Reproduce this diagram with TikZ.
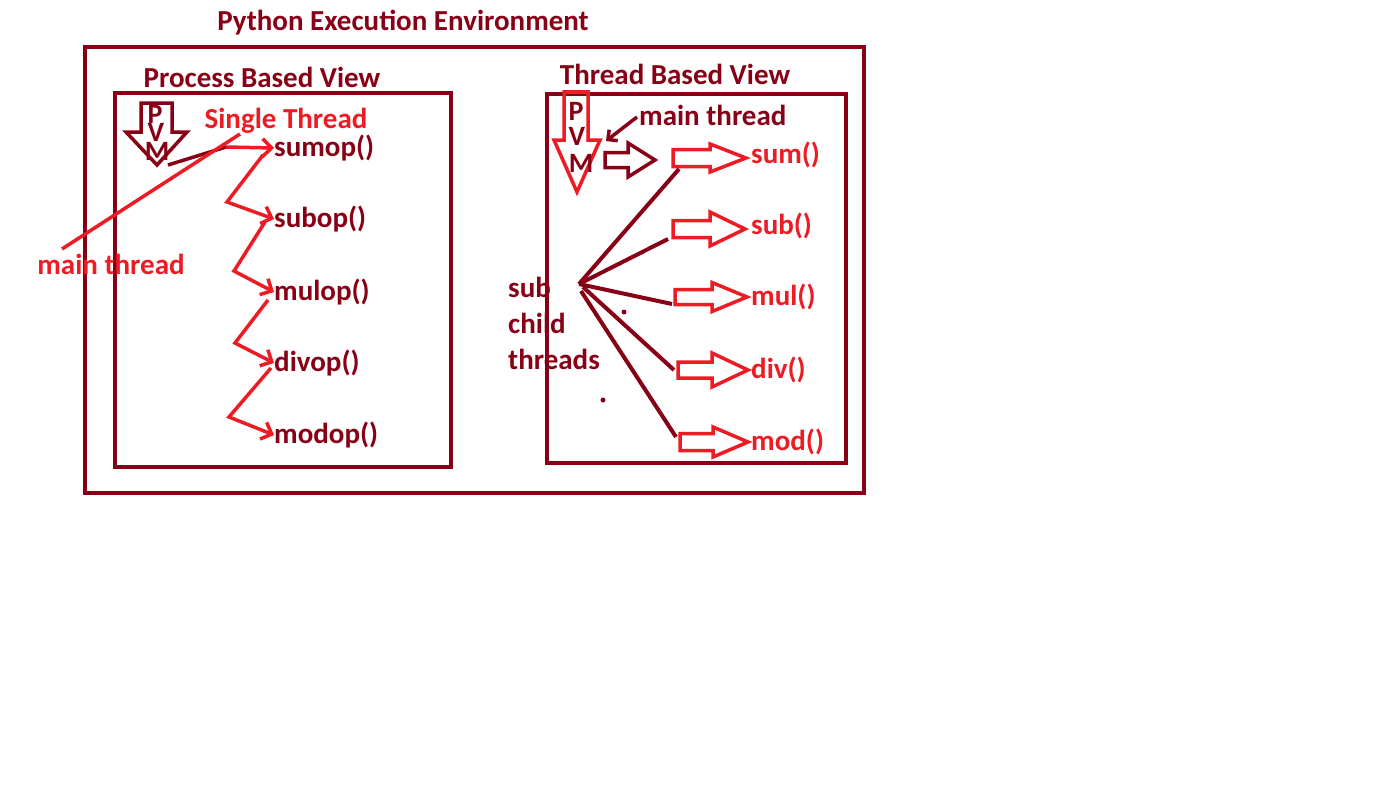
\documentclass[tikz,border=0pt]{standalone}
\usepackage{fontspec}
\setmainfont{Carlito}
\usetikzlibrary{arrows.meta}
\definecolor{dred}{RGB}{136,0,21}
\definecolor{bred}{RGB}{237,28,36}
\newcommand\myblockarrow[7]{% color, x1, x2, xt, yc, hs, hh
  \draw[#1, line width=3.5pt, line join=miter]
    (#2,#5-#6) -- (#3,#5-#6) -- (#3,#5-#7) -- (#4,#5) -- (#3,#5+#7) -- (#3,#5+#6) -- (#2,#5+#6) -- cycle;}
\begin{document}
\begin{tikzpicture}[x=1pt,y=-1pt,
  lbl/.style={font=\fontsize{29}{34}\selectfont\bfseries, inner sep=0pt},
  dlbl/.style={lbl, text=dred},
  rlbl/.style={lbl, text=bred},
  pvm/.style={font=\fontsize{28}{30}\selectfont\bfseries, inner sep=0pt, text=dred,
              text height=8pt, text depth=0pt, anchor=base},
  frame/.style={draw=dred, line width=4pt},
  zig/.style={bred, line width=3.5pt, line join=miter, -{Straight Barb[length=9pt,width=18pt,line width=3.5pt]}},
  fan/.style={dred, line width=4pt}]
\useasboundingbox (0,0) rectangle (1398,800);
\fill[white] (0,0) rectangle (1398,800);

% titles
\node[dlbl] (title) at (403,23) {Python Execution Environment};
\node[dlbl] (pbv) at (262,77) {Process Based View};
\node[dlbl] (tbv) at (675,74) {Thread Based View};

% frames
\draw[frame] (85,47) rectangle (864,493);
\draw[frame] (115,93) rectangle (451,467);
\draw[frame] (547,94) rectangle (846,463);

% ---------- left: process based view ----------
\draw[dred, line width=3.5pt, line join=miter]
  (141,103) -- (172,103) -- (172,132) -- (187,132) -- (157,165) -- (126,132) -- (141,132) -- cycle;
\node[pvm] (p1) at (155,123) {P};
\node[pvm] (v1) at (156,141) {V};
\node[pvm] (m1) at (157,160) {M};

\node[rlbl] (single) at (286,121) {Single Thread};
\node[rlbl] (mainL) at (111,264) {main thread};

\node[dlbl, anchor=west] (sumop) at (274,148) {sumop()};
\node[dlbl, anchor=west] (subop) at (274,219) {subop()};
\node[dlbl, anchor=west] (mulop) at (274,292) {mulop()};
\node[dlbl, anchor=west] (divop) at (274,363) {divop()};
\node[dlbl, anchor=west] (modop) at (274,435) {modop()};

\coordinate (pvmL) at (168,165);
\coordinate (st) at (226,147);
\coordinate (mtS) at (62,249);
\coordinate (mtE) at (240,134);
\coordinate (k1) at (227,202);
\coordinate (k2) at (234,271);
\coordinate (k3) at (235,343);
\coordinate (k4) at (229,417);

\draw[dred, line width=3.5pt] (pvmL) -- (st);
\draw[bred, line width=3.5pt] (mtS) -- (mtE);
\draw[zig] (st) -- (sumop.west);
\draw[zig] (263,155) -- (k1) -- (subop.west);
\draw[zig] (265,222) -- (k2) -- (mulop.west);
\draw[zig] (268,300) -- (k3) -- (divop.west);
\draw[zig] (271,368) -- (k4) -- (modop.west);

% ---------- right: thread based view ----------
\draw[bred, line width=3.5pt, line join=miter]
  (564,92) -- (588,92) -- (588,140) -- (600,140) -- (577,192) -- (554,140) -- (564,140) -- cycle;
\node[pvm] (p2) at (576,121) {P};
\node[pvm] (v2) at (577,145) {V};
\node[pvm] (m2) at (581,172) {M};

\node[dlbl, anchor=west] (mainR) at (639,115) {main thread};
\coordinate (mtR) at (637,117);
\coordinate (mtRe) at (606,141);
\draw[dred, line width=3.5pt, -{Straight Barb[length=7pt,width=14pt,line width=3.5pt]}] (mtR) -- (mtRe);

\myblockarrow{dred}{605}{628}{655}{160}{7.5}{17}

\myblockarrow{bred}{673}{710}{746}{158}{8.5}{14}
\myblockarrow{bred}{673}{710}{745}{229}{8.5}{17}
\myblockarrow{bred}{675}{712}{747}{297}{7.5}{14.5}
\myblockarrow{bred}{678}{712}{748}{370}{8}{17}
\myblockarrow{bred}{680}{713}{748}{442}{8.5}{15}

\node[rlbl, anchor=west] (sum) at (751,155) {sum()};
\node[rlbl, anchor=west] (sub) at (751,226) {sub()};
\node[rlbl, anchor=west] (mul) at (751,297) {mul()};
\node[rlbl, anchor=west] (div) at (751,370) {div()};
\node[rlbl, anchor=west] (mod) at (751,442) {mod()};

\node[dlbl, anchor=west] (subchild) at (508,287) {sub};
\node[dlbl, anchor=west] (child) at (508,323) {child};
\node[dlbl, anchor=west] (threads) at (508,359) {threads};

\coordinate (hub) at (579,284);
\coordinate (e1) at (679,169);
\coordinate (e2) at (668,239);
\coordinate (e3) at (672,304);
\coordinate (e4) at (674,370);
\coordinate (e5) at (676,437);
\draw[fan] (hub) -- (e1);
\draw[fan] (hub) -- (e2);
\draw[fan] (hub) -- (e3);
\draw[fan] (583,287) -- (e4);
\draw[fan] (581,291) -- (e5);

\fill[dred] (624,312) circle (2.5);
\fill[dred] (603,400) circle (2.5);
\end{tikzpicture}
\end{document}
